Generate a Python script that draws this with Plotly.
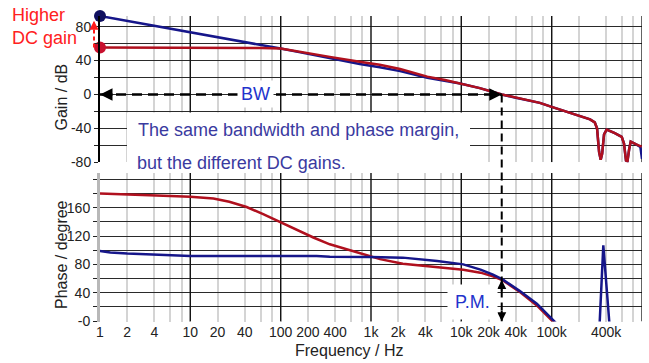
import numpy as np
import plotly.graph_objects as go

# ---------------- data ----------------
gain_blue_f = [1, 2, 5, 10, 20, 50, 100, 160, 350, 750, 1250, 2100, 4200, 6600, 9700,
               16000, 28000, 40000, 74000, 100000, 150000, 200000, 266000, 300000, 318000,
               335000, 349000, 362000, 380000, 406000, 500000, 597000, 632000, 665000,
               690000, 720000, 750000, 850000, 960000, 1000000]
gain_blue_db = [92.5, 86.8, 79.4, 73.6, 67.8, 60.0, 54.1, 49.9, 42.5, 35.8, 32.0, 27.5, 19.8,
                16.3, 12.8, 7.5, 0.0, -3.8, -9.9, -14.6, -20.7, -25.0, -29.4, -33.0, -40.0,
                -68.0, -77.0, -70.0, -47.0, -41.4, -45.5, -50.0, -58.0, -78.0, -79.0, -65.0,
                -55.7, -58.5, -62.0, -76.0]

gain_red_f = [1, 10, 30, 60, 100, 160, 350, 750, 1250, 2100, 4200, 6600, 9700, 16000, 28000,
              40000, 74000, 100000, 150000, 200000, 266000, 300000, 318000, 335000, 349000,
              362000, 380000, 406000, 500000, 597000, 632000, 665000, 690000, 720000, 750000,
              850000, 993000]
gain_red_db = [55.3, 55.3, 55.2, 54.8, 54.3, 50.3, 44.3, 38.6, 35.0, 30.0, 21.0, 17.0, 13.0,
               7.5, 0.0, -3.8, -9.9, -14.6, -20.7, -25.0, -29.4, -33.0, -40.0, -68.0, -77.0,
               -70.0, -47.0, -41.4, -45.5, -50.0, -58.0, -78.0, -79.0, -65.0, -55.7, -58.5,
               -61.6]

phase_blue_f = [1, 1.3, 2, 3.6, 5.7, 10, 250, 350, 1000, 2250, 5400, 10500, 16300, 22400,
                28900, 44500, 68500, 103000, 123000, 200000, 340000, 373000, 435000, 565000,
                1000000]
phase_blue_deg = [99, 97, 95.5, 94, 93, 92, 91.9, 91, 90.5, 89.6, 84.8, 80.1, 72.6, 65.6,
                  58.5, 42.4, 24.6, 2, -8, -50, -2, 107, -2, -150, -160]

phase_red_f = [1, 3, 6, 10, 18, 27, 42, 64, 98, 150, 230, 350, 540, 820, 1260, 2250, 5400,
               10500, 16300, 22400, 28900, 44500, 68500, 103000, 160000, 1000000]
phase_red_deg = [180, 178.6, 176.7, 175.5, 173, 168.5, 161, 151, 140, 129, 118, 108.4, 101,
                 94.3, 87.5, 81.1, 76.3, 72.6, 68.4, 63.2, 57.5, 41, 22.2, 1, -25, -150]

bw_freq = 28000          # 0 dB crossing
pm_phase = 58            # phase at crossing
x_tick_vals = [1, 2, 4, 10, 20, 40, 100, 200, 400, 1e3, 2e3, 4e3, 1e4, 2e4, 4e4, 1e5, 4e5, 1e6]
x_tick_text = ["1", "2", "4", "10", "20", "40", "100", "200", "400", "1k", "2k", "4k",
               "10k", "20k", "40k", "100k", "400k", "1M"]
gain_ticks = [-80, -60, -40, -20, 0, 20, 40, 60, 80]
gain_tick_text = ["-80", "", "-40", "", "0", "", "40", "", "80"]
phase_ticks = [0, 20, 40, 60, 80, 100, 120, 140, 160, 180, 200]
phase_tick_text = ["-0", "", "40", "", "80", "", "120", "", "160", "", ""]

# ---------------- style ----------------
BLUE = "#16168a"
RED = "#b0101e"
FONT = "Liberation Sans, Arial, sans-serif"
XR = [0, 6]
GR = [-80, 92.5]
PR = [-0.5, 209]
TOP_DOM = [1 - 162.3 / 363, 1 - 16 / 363]
BOT_DOM = [1 - 321.5 / 363, 1 - 173 / 363]

# grid positions: 1,2,4,6,8 per decade
grid_vals = []
for d in range(6):
    for m in (1, 2, 4, 6, 8):
        grid_vals.append(m * 10 ** d)
grid_vals.append(1e6)
label_map = dict(zip(x_tick_vals, x_tick_text))
grid_text = [label_map.get(v, "") for v in grid_vals]
decades = [10 ** k for k in range(1, 7)]


def xdom(f):
    return (np.log10(f) - XR[0]) / (XR[1] - XR[0])


def gain_paper(db):
    return TOP_DOM[0] + (db - GR[0]) / (GR[1] - GR[0]) * (TOP_DOM[1] - TOP_DOM[0])


def phase_paper(p):
    return BOT_DOM[0] + (p - PR[0]) / (PR[1] - PR[0]) * (BOT_DOM[1] - BOT_DOM[0])


fig = go.Figure()
fig.add_trace(go.Scatter(x=gain_blue_f, y=gain_blue_db, mode="lines",
                         line=dict(color=BLUE, width=2.5), xaxis="x", yaxis="y"))
fig.add_trace(go.Scatter(x=gain_red_f, y=gain_red_db, mode="lines",
                         line=dict(color=RED, width=2.5), xaxis="x", yaxis="y"))
fig.add_trace(go.Scatter(x=phase_red_f, y=phase_red_deg, mode="lines",
                         line=dict(color=RED, width=2.5), xaxis="x2", yaxis="y2"))
fig.add_trace(go.Scatter(x=phase_blue_f, y=phase_blue_deg, mode="lines",
                         line=dict(color=BLUE, width=2.5), xaxis="x2", yaxis="y2"))
# BW dashed line
fig.add_trace(go.Scatter(x=[1, bw_freq], y=[0, 0], mode="lines",
                         line=dict(color="black", width=2.5, dash="10px,6px"),
                         xaxis="x", yaxis="y"))
# DC gain dots
fig.add_trace(go.Scatter(x=[gain_blue_f[0]], y=[gain_blue_db[0]], mode="markers",
                         marker=dict(color="#101060", size=12), cliponaxis=False,
                         xaxis="x", yaxis="y"))
fig.add_trace(go.Scatter(x=[gain_red_f[0]], y=[gain_red_db[0]], mode="markers",
                         marker=dict(color="#c8102e", size=12), cliponaxis=False,
                         xaxis="x", yaxis="y"))

shapes = []
# decade grid lines (black)
for f in decades:
    shapes.append(dict(type="line", xref="x", yref="y", x0=f, x1=f, y0=GR[0], y1=GR[1],
                       line=dict(color="#111", width=1.3), layer="between"))
    shapes.append(dict(type="line", xref="x2", yref="y2", x0=f, x1=f, y0=PR[0], y1=PR[1],
                       line=dict(color="#111", width=1.3), layer="between"))
# white box behind text
shapes.append(dict(type="rect", xref="paper", yref="paper", x0=27 / 542, x1=370 / 542,
                   y0=1 - 172 / 363, y1=1 - 112.5 / 363, fillcolor="white",
                   line=dict(width=0), layer="above"))
# vertical dashed line at BW
shapes.append(dict(type="line", xref="paper", yref="paper", x0=xdom(bw_freq), x1=xdom(bw_freq),
                   y0=gain_paper(0), y1=phase_paper(0),
                   line=dict(color="black", width=2, dash="8px,5px"), layer="above"))
# red dashed arrow (higher DC gain)
shapes.append(dict(type="line", xref="paper", yref="paper", x0=-6 / 542, x1=-6 / 542,
                   y0=gain_paper(gain_red_db[0]), y1=gain_paper(86),
                   line=dict(color="#ff1a1a", width=2, dash="4px,3px"), layer="above"))

ann = []
lx = np.log10
ann.append(dict(x=lx(1), y=0, xref="x", yref="y", ax=14, ay=0, text="", showarrow=True,
                arrowhead=2, arrowsize=1, arrowwidth=2.5, arrowcolor="black"))
ann.append(dict(x=lx(bw_freq), y=0, xref="x", yref="y", ax=-14, ay=0, text="", showarrow=True,
                arrowhead=2, arrowsize=1, arrowwidth=2.5, arrowcolor="black"))
ann.append(dict(x=lx(bw_freq), y=pm_phase, xref="x2", yref="y2", ax=0, ay=12, text="",
                showarrow=True, arrowhead=2, arrowsize=0.9, arrowwidth=2, arrowcolor="black"))
ann.append(dict(x=lx(bw_freq), y=0, xref="x2", yref="y2", ax=0, ay=-12, text="",
                showarrow=True, arrowhead=2, arrowsize=0.9, arrowwidth=2, arrowcolor="black"))
ann.append(dict(x=lx(1), y=87, xref="x", yref="y", xshift=-6, ax=0, ay=7, text="",
                showarrow=True, arrowhead=2, arrowsize=1, arrowwidth=1.8, arrowcolor="#ff1a1a"))
ann.append(dict(x=lx(53), y=0, xref="x", yref="y", text="BW", showarrow=False,
                font=dict(family=FONT, size=18, color="#2233cc"), bgcolor="white", borderpad=3))
ann.append(dict(x=lx(13400), y=27, xref="x2", yref="y2", text="P.M.", showarrow=False,
                font=dict(family=FONT, size=18, color="#2233cc"), bgcolor="white", borderpad=7))
ann.append(dict(x=36 / 542, y=1 - 130 / 363, xref="paper", yref="paper",
                text="The same bandwidth and phase margin,", showarrow=False, xanchor="left",
                yanchor="middle", font=dict(family=FONT, size=18, color="#3a3aa0")))
ann.append(dict(x=35 / 542, y=1 - 163 / 363, xref="paper", yref="paper",
                text="but the different DC gains.", showarrow=False, xanchor="left",
                yanchor="middle", font=dict(family=FONT, size=18, color="#3a3aa0")))
ann.append(dict(x=-90 / 542, y=1 - 26 / 363, xref="paper", yref="paper",
                text="Higher<br>DC gain", showarrow=False, xanchor="left", yanchor="middle",
                align="left", font=dict(family=FONT, size=18, color="#ff2020")))
ann.append(dict(x=-39 / 542, y=1 - 97.5 / 363, xref="paper", yref="paper", text="Gain / dB",
                textangle=-90, showarrow=False, xanchor="center", yanchor="middle",
                font=dict(family=FONT, size=16, color="#222")))
ann.append(dict(x=-39 / 542, y=1 - 255 / 363, xref="paper", yref="paper",
                text="Phase / degree", textangle=-90, showarrow=False, xanchor="center",
                yanchor="middle", font=dict(family=FONT, size=16, color="#222")))
ann.append(dict(x=249 / 542, y=1 - 350 / 363, xref="paper", yref="paper",
                text="Frequency / Hz", showarrow=False, xanchor="center", yanchor="middle",
                font=dict(family=FONT, size=16, color="#222")))

common_x = dict(type="log", range=XR, domain=[0, 1], tickvals=grid_vals, showgrid=True,
                gridcolor="#d4d4d4", gridwidth=2, zeroline=False, showline=False,
                automargin=False)
fig.update_layout(
    width=649, height=363, margin=dict(l=100, r=7, t=0, b=0),
    paper_bgcolor="white", plot_bgcolor="white", showlegend=False,
    font=dict(family=FONT, size=14, color="#222"),
    xaxis=dict(common_x, anchor="y", showticklabels=False, ticks=""),
    xaxis2=dict(common_x, anchor="y2", ticktext=grid_text, ticks="",
                tickfont=dict(family=FONT, size=14, color="#222")),
    yaxis=dict(domain=TOP_DOM, range=GR, anchor="x", tickvals=gain_ticks,
               ticktext=gain_tick_text, ticks="outside", ticklen=4, tickcolor="#222",
               showgrid=True, gridcolor="#2a2a2a", gridwidth=1, zeroline=False,
               showline=True, linecolor="black", linewidth=2, automargin=False,
               tickfont=dict(family=FONT, size=14, color="#222")),
    yaxis2=dict(domain=BOT_DOM, range=PR, anchor="x2", tickvals=phase_ticks,
                ticktext=phase_tick_text, ticks="outside", ticklen=4, tickcolor="#222",
                showgrid=True, gridcolor="#2a2a2a", gridwidth=1, zeroline=False,
                showline=True, linecolor="#b8b8b8", linewidth=3, automargin=False,
                tickfont=dict(family=FONT, size=14, color="#222")),
    shapes=shapes, annotations=ann,
)
fig.write_html("out.html", config={"displayModeBar": False},
               post_script="document.body.style.margin='0px';")
